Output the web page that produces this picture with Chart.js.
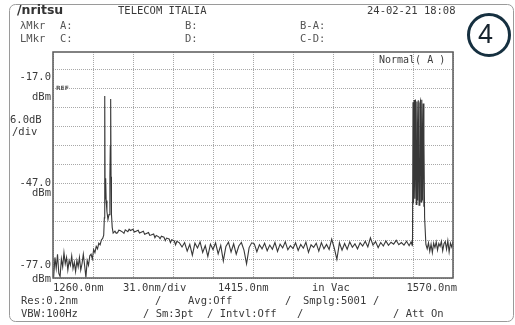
<!DOCTYPE html>
<html>
<head>
<meta charset="utf-8">
<script src="https://cdn.jsdelivr.net/npm/chart.js@4.4.0/dist/chart.umd.min.js"></script>
<style>
html, body { margin: 0; padding: 0; background: #fff; }
canvas { display: block; }
</style>
</head>
<body>
<canvas id="osa" width="515" height="325"></canvas>
<script>
// trace (nm / dBm)
var traceNm = [
    // noise floor, left
    1260.5, 1261.5, 1262.5, 1263.5, 1264.5, 1265.5, 1266.5, 1267.5, 1268.5, 1269.5,
    1270.5, 1271.5, 1272.5, 1273.5, 1274.5, 1275.5, 1276.5, 1277.5, 1278.5, 1279.5,
    1280.5, 1281.5, 1282.5, 1283.5, 1284.5, 1285.5, 1286.5, 1287.5, 1288.5,
    // rise + 1300 peaks
    1289.5, 1290.5, 1291.5, 1292.5, 1293.5, 1294.5, 1295.5, 1296.5, 1297.5, 1298.5,
    1299.3, 1299.8, 1300.1, 1300.4, 1300.8, 1301.2, 1301.8, 1302.6, 1303.4, 1304.1,
    1304.4, 1304.7, 1305.0, 1305.3, 1305.9, 1306.6,
    // shoulder
    1308, 1309, 1310, 1311, 1312, 1314, 1315, 1316, 1318, 1319, 1320, 1322, 1323, 1324, 1326,
    1327, 1328, 1330, 1331, 1332, 1334, 1335, 1336, 1338, 1339, 1340, 1342, 1343, 1344, 1346,
    1347, 1348, 1350, 1351, 1352, 1354, 1355, 1356,
    // noise floor, middle
    1358, 1360, 1362, 1364, 1366, 1368, 1370, 1372, 1374, 1376,
    1378, 1380, 1382, 1384, 1386, 1388, 1390, 1392, 1394, 1396,
    1398, 1400, 1402, 1404, 1406, 1408, 1410, 1412, 1414, 1416,
    1418, 1420, 1422, 1424, 1426, 1428, 1430, 1432, 1434, 1436,
    1438, 1440, 1442, 1444, 1446, 1448, 1450, 1452, 1454, 1456,
    1458, 1460, 1462, 1464, 1466, 1468, 1470, 1472, 1474, 1476,
    1478, 1480, 1482, 1484, 1486, 1488, 1490, 1492, 1494, 1496,
    1498, 1500, 1502, 1504, 1506, 1508, 1510, 1512, 1514, 1516,
    1518, 1520, 1522, 1524, 1526, 1528, 1530, 1532, 1534, 1536, 1537.5,
    // channel group
    1538.0, 1538.6, 1539.0, 1539.4, 1539.8, 1540.4, 1540.9, 1541.5, 1542.0, 1542.6,
    1543.1, 1543.7, 1544.3, 1544.8, 1545.3, 1545.8, 1546.3, 1546.9, 1547.4, 1547.5,
    1548.0,
    // noise floor, right
    1549, 1550, 1551, 1552, 1553, 1554, 1555, 1556, 1557, 1558,
    1559, 1560, 1561, 1562, 1563, 1564, 1565, 1566, 1567, 1568,
    1569, 1570
];
var traceDbm = [
    -76.8, -70.5, -74.0, -69.5, -75.5, -76.5, -71.0, -73.5, -69.0, -72.5,
    -70.5, -74.5, -71.5, -73.0, -70.0, -74.0, -72.0, -75.0, -71.5, -73.5,
    -70.5, -74.5, -72.5, -69.5, -73.0, -76.8, -71.5, -73.0, -70.0,
    -69.5, -71.0, -68.0, -69.0, -67.0, -67.8, -66.0, -66.5, -65.0, -64.5,
    -63.5, -58.0, -19.5, -52.0, -45.5, -52.5, -56.0, -58.5, -57.0, -45.0,
    -35.5, -20.5, -45.0, -56.8, -61.0, -62.8,
    -62.2, -62.9, -62.7, -61.9, -62.0, -62.5, -62.9, -61.8, -62.4, -61.6, -62.0, -61.6, -62.5, -62.3, -61.9,
    -62.8, -62.6, -62.2, -63.2, -63.0, -62.6, -63.5, -63.4, -63.1, -64.3, -63.6, -64.0, -64.6, -63.8, -64.1, -65.2,
    -64.4, -64.7, -65.8, -64.9, -65.3, -66.5, -65.4, -65.9,
    -67.2, -65.8, -68.5, -66.4, -69.8, -66.0, -67.5, -65.6, -68.9, -66.8,
    -70.2, -66.3, -68.0, -65.9, -69.4, -66.7, -71.6, -67.0, -65.7, -68.8,
    -66.2, -69.5, -66.9, -65.8, -68.2, -72.5, -67.4, -65.9, -66.2, -68.7,
    -66.5, -67.8, -66.0, -68.4, -66.6, -67.9, -65.8, -68.6, -66.3, -67.5,
    -65.6, -68.1, -66.8, -67.7, -65.9, -68.3, -66.4, -67.6, -65.7, -68.9,
    -66.5, -67.3, -66.0, -68.5, -65.8, -67.8, -66.4, -68.0, -64.7, -67.6,
    -71.1, -65.9, -68.2, -66.1, -67.9, -65.6, -67.3, -66.2, -67.8, -65.9,
    -66.9, -65.4, -67.2, -64.3, -66.6, -65.5, -67.4, -65.8, -66.9, -65.3,
    -66.7, -65.7, -66.3, -65.1, -66.5, -65.8, -66.6, -65.4, -66.8, -65.6, -66.2,
    -66.5, -21.5, -53.5, -20.8, -52.0, -20.6, -53.8, -21.3, -52.5, -20.9,
    -54.0, -21.8, -21.0, -53.0, -20.7, -52.5, -21.9, -54.5, -32.7, -58.0,
    -66.4,
    -67.8, -65.9, -68.6, -66.3, -69.0, -66.0, -67.4, -65.6, -68.2, -66.1,
    -67.0, -65.4, -68.4, -66.2, -65.5, -67.9, -65.2, -68.8, -66.0, -67.2,
    -65.5, -66.3
];

// 31 nm/div, 6 dB/div
var xTicks = [1260, 1291, 1322, 1353, 1384, 1415, 1446, 1477, 1508, 1539, 1570];
var yTicks = [-77, -71, -65, -59, -53, -47, -41, -35, -29, -23, -17, -11];
var yLabels = ['-77.0', '-47.0', '-17.0'];

var monoFont = '10.5px "DejaVu Sans Mono", "Liberation Mono", monospace';
var textColor = '#3a3a3a';

function txt(ctx, s, x, y, align, font, color) {
    ctx.font = font || monoFont;
    ctx.fillStyle = color || textColor;
    ctx.textAlign = align || 'left';
    ctx.textBaseline = 'middle';
    ctx.fillText(s, x, y);
}

var screenPlugin = {
    id: 'screen',
    beforeDraw: function (chart) {
        var ctx = chart.ctx;
        ctx.save();
        ctx.fillStyle = '#ffffff';
        ctx.fillRect(0, 0, chart.width, chart.height);
        ctx.restore();
    },
    afterDraw: function (chart) {
        var ctx = chart.ctx;
        var a = chart.chartArea;
        var xs = chart.scales.x;
        var ys = chart.scales.y;
        ctx.save();

        // outer frame
        ctx.strokeStyle = '#9a9a9a';
        ctx.lineWidth = 1;
        ctx.beginPath();
        ctx.roundRect(9.5, 4.5, 504, 317, 6);
        ctx.stroke();

        // plot frame
        ctx.strokeStyle = '#5a5a5a';
        ctx.lineWidth = 1.5;
        ctx.strokeRect(a.left, a.top, a.right - a.left, a.bottom - a.top);

        // header
        txt(ctx, '/nritsu', 17, 11, 'left', 'bold 12.5px "DejaVu Sans", sans-serif', '#333');
        txt(ctx, 'TELECOM ITALIA', 118, 11.5);
        txt(ctx, '24-02-21 18:08', 367, 11.5);
        txt(ctx, 'λMkr', 20, 26.5, 'left', null, '#555');
        txt(ctx, 'A:', 60, 26.5, 'left', null, '#555');
        txt(ctx, 'B:', 185, 26.5, 'left', null, '#555');
        txt(ctx, 'B-A:', 300, 26.5, 'left', null, '#555');
        txt(ctx, 'LMkr', 20, 39.5, 'left', null, '#555');
        txt(ctx, 'C:', 60, 39.5, 'left', null, '#555');
        txt(ctx, 'D:', 185, 39.5, 'left', null, '#555');
        txt(ctx, 'C-D:', 300, 39.5, 'left', null, '#555');
        txt(ctx, 'Normal( A )', 379, 60.5, 'left', '10px "DejaVu Sans Mono", monospace');

        // level labels
        var y17 = ys.getPixelForValue(-17);
        var y47 = ys.getPixelForValue(-47);
        var y77 = ys.getPixelForValue(-77);
        txt(ctx, yLabels[2], 51, y17 - 11, 'right');
        txt(ctx, 'dBm', 51, y17 + 9, 'right');
        txt(ctx, 'REF', 56, y17, 'left', 'bold 6px "DejaVu Sans", sans-serif', '#555');
        txt(ctx, '6.0dB', 10, 120, 'left');
        txt(ctx, '/div', 12, 132, 'left');
        txt(ctx, yLabels[1], 51, y47, 'right');
        txt(ctx, 'dBm', 51, y47 + 10.5, 'right');
        txt(ctx, yLabels[0], 51, y77 - 12.5, 'right');
        txt(ctx, 'dBm', 51, y77 + 1.5, 'right');

        // wavelength labels
        txt(ctx, '1260.0nm', xs.getPixelForValue(1260), 288);
        txt(ctx, '31.0nm/div', 123, 288);
        txt(ctx, '1415.0nm', 218, 288);
        txt(ctx, 'in Vac', 312, 288);
        txt(ctx, '1570.0nm', 457, 288, 'right');

        // settings
        txt(ctx, 'Res:0.2nm', 21, 301);
        txt(ctx, '/', 155, 301);
        txt(ctx, 'Avg:Off', 188, 301);
        txt(ctx, '/', 285, 301);
        txt(ctx, 'Smplg:5001', 303, 301);
        txt(ctx, '/', 373, 301);
        txt(ctx, 'VBW:100Hz', 21, 314.5);
        txt(ctx, '/ Sm:3pt', 143, 314.5);
        txt(ctx, '/ Intvl:Off', 207, 314.5);
        txt(ctx, '/', 297, 314.5);
        txt(ctx, '/ Att On', 393, 314.5);

        // badge
        ctx.strokeStyle = '#163040';
        ctx.lineWidth = 3;
        ctx.beginPath();
        ctx.arc(489, 35, 20.5, 0, Math.PI * 2);
        ctx.stroke();
        txt(ctx, '4', 485.5, 36, 'center', '27px "Liberation Sans", Arial, sans-serif', '#17232d');

        ctx.restore();
    }
};

var points = traceNm.map(function (nm, i) {
    return { x: nm, y: traceDbm[i] };
});

var ctx = document.getElementById('osa').getContext('2d');
var chart = new Chart(ctx, {
    type: 'line',
    data: {
        datasets: [{
            data: points,
            borderColor: '#383838',
            borderWidth: 1.1,
            pointRadius: 0,
            tension: 0,
            fill: false
        }]
    },
    options: {
        responsive: false,
        animation: false,
        devicePixelRatio: 1,
        layout: {
            padding: { left: 53, top: 52, right: 62, bottom: 47 }
        },
        plugins: {
            legend: { display: false },
            tooltip: { enabled: false }
        },
        scales: {
            x: {
                type: 'linear',
                min: 1260,
                max: 1570,
                afterBuildTicks: function (axis) {
                    axis.ticks = xTicks.map(function (v) { return { value: v }; });
                },
                ticks: { display: false },
                grid: { color: '#a8a8a8', lineWidth: 1, drawTicks: false },
                border: { display: false, dash: [1, 1] }
            },
            y: {
                type: 'linear',
                min: -77,
                max: -5.63,
                afterBuildTicks: function (axis) {
                    axis.ticks = yTicks.map(function (v) { return { value: v }; });
                },
                ticks: { display: false },
                grid: { color: '#a8a8a8', lineWidth: 1, drawTicks: false },
                border: { display: false, dash: [1, 1] }
            }
        }
    },
    plugins: [screenPlugin]
});
</script>
</body>
</html>
